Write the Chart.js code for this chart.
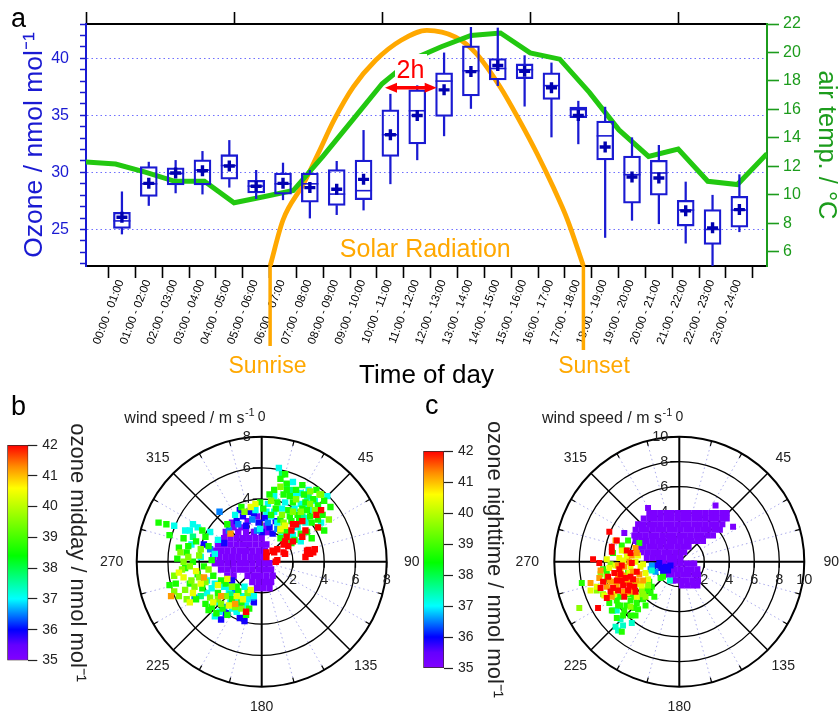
<!DOCTYPE html>
<html><head><meta charset="utf-8">
<script src="https://cdn.jsdelivr.net/npm/chart.js@4.4.1/dist/chart.umd.min.js"></script>
<style>
html,body{margin:0;padding:0;background:#fff;}
#wrap{position:relative;width:839px;height:714px;overflow:hidden;background:#fff;}
canvas{position:absolute;}
</style></head><body>
<div id="wrap">
<canvas id="cA" width="839" height="395" style="left:0;top:0"></canvas>
<canvas id="cBp" width="420" height="329" style="left:0;top:385px"></canvas>
<canvas id="cCp" width="419" height="329" style="left:420px;top:385px"></canvas>
<canvas id="cBc" width="100" height="295" style="left:0;top:410px"></canvas>
<canvas id="cCc" width="100" height="295" style="left:416px;top:410px"></canvas>
</div>
<script>
// ---------------- panel a data ----------------
const hourLabels = ['00:00 - 01:00','01:00 - 02:00','02:00 - 03:00','03:00 - 04:00','04:00 - 05:00','05:00 - 06:00','06:00 - 07:00','07:00 - 08:00','08:00 - 09:00','09:00 - 10:00','10:00 - 11:00','11:00 - 12:00','12:00 - 13:00','13:00 - 14:00','14:00 - 15:00','15:00 - 16:00','16:00 - 17:00','17:00 - 18:00','18:00 - 19:00','19:00 - 20:00','20:00 - 21:00','21:00 - 22:00','22:00 - 23:00','23:00 - 24:00'];
const hourMid = [0.5,1.5,2.5,3.5,4.5,5.5,6.5,7.5,8.5,9.5,10.5,11.5,12.5,13.5,14.5,15.5,16.5,17.5,18.5,19.5,20.5,21.5,22.5,23.5];
const o3Min    = [24.6,27.1,28.2,28.1,28.7,27.7,27.6,26.0,26.3,26.7,29.0,31.1,33.2,35.6,37.6,35.8,33.1,32.5,24.3,25.8,25.5,23.8,21.7,24.8];
const o3Q1     = [25.1,27.9,28.9,28.9,29.4,28.2,28.1,27.4,27.1,27.6,31.4,32.5,34.9,36.7,38.1,38.2,36.4,34.8,31.1,27.3,28.0,25.3,23.7,25.2];
const o3Median = [25.75,29.0,29.9,30.2,30.6,28.8,29.0,29.0,28.1,28.4,33.3,35.4,38.0,38.9,39.1,39.0,37.6,35.5,33.2,29.8,29.95,26.7,25.0,26.7];
const o3Mean   = [26.07,29.04,29.95,30.15,30.56,28.78,29.04,28.67,28.52,29.39,33.3,34.99,37.23,38.83,39.36,38.86,37.41,34.99,32.22,29.6,29.51,26.63,25.14,26.74];
const o3Q3     = [26.5,30.5,30.4,31.1,31.55,29.3,29.95,29.95,30.24,31.08,35.48,37.23,38.73,41.08,39.97,39.5,38.72,35.72,34.49,31.43,31.05,27.56,26.74,27.91];
const o3Max    = [28.3,30.9,31.05,31.84,32.8,30.18,30.82,30.18,30.97,33.68,36.85,37.6,40.47,42.71,42.65,40.23,39.59,36.24,35.72,33.04,32.37,29.16,28.0,29.8];
const ozoneTicks = [22,23,24,25,26,27,28,29,30,31,32,33,34,35,36,37,38,39,40,41,42,43];
const tempHours = [0,1,2,3,4,5,6,7,8,9,10,11,12,13,14,15,16,17,18,19,20,21,22,23];
const airTemp   = [12.3,12.16,11.6,10.95,10.95,9.44,9.86,10.3,12.7,15.25,17.8,19.5,20.4,21.2,21.37,19.97,19.53,17.2,14.56,12.7,13.21,10.95,10.72,12.89];
const tempTicks = [6,8,10,12,14,16,18,20,22];
const topTicks  = [0,5,10,15,20];
const solarHours     = [6.02,6.5,7.27,7.81,8.4,9.12,9.95,10.9,11.86,12.93,13.7,14.59,15.3,15.96,16.56,17.1,17.69];
const solarRadiation = [0,190,341,465,603,740,850,933,974,946,878,740,603,465,327,190,0];

// ---------------- panel b data (wind east / north components, m s-1) ----------------
const midday35_1 = [[-1.8,2.2],[-1.3,2.2],[-2.3,1.9],[-1.5,1.9],[-1.0,1.9],[-0.5,1.9],[0.1,1.9],[0.4,1.9],
[-2.4,1.5],[-2.0,1.5],[-1.6,1.5],[-1.2,1.5],[-0.8,1.5],[-0.4,1.5],[0.0,1.5],
[-2.8,1.1],[-2.4,1.1],[-2.0,1.1],[-1.6,1.1],[-1.2,1.1],[-0.8,1.1],[-0.4,1.1],[0.0,1.1],[0.3,1.1],
[-3.0,0.7],[-2.6,0.7],[-2.2,0.7],[-1.8,0.7],[-1.4,0.7],[-1.0,0.7],[-0.6,0.7],[-0.2,0.7],[0.2,0.7],
[-3.1,0.3],[-2.7,0.3],[-2.3,0.3],[-1.9,0.3],[-1.5,0.3],[-1.1,0.3],[-0.7,0.3],[-0.3,0.3],[0.1,0.3],
[-3.0,-0.1],[-2.6,-0.1],[-2.2,-0.1],[-1.8,-0.1],[-1.4,-0.1],[-1.0,-0.1],[-0.6,-0.1],[-0.2,-0.1],[0.2,-0.1],[0.5,-0.1],
[-2.6,-0.5],[-2.2,-0.5],[-1.8,-0.5],[-1.4,-0.5],[-1.0,-0.5],[-0.6,-0.5],[-0.2,-0.5],[0.2,-0.5],[0.6,-0.5],
[-2.2,-0.9],[-1.8,-0.9],[-0.9,-0.9],[-0.5,-0.9],[-0.1,-0.9],[0.3,-0.9],[0.7,-0.9],
[-0.6,-1.3],[-0.2,-1.3],[0.2,-1.3],[0.6,-1.3],[-0.3,-1.7],[0.1,-1.7],[0.5,-1.7],[-1.4,-2.7],
[-0.9,2.6],[-1.9,2.5],[0.3,2.3],[-0.3,2.9]];
const midday35_9 = [[-0.8,3.2],[-0.5,3.1],[0.9,2.6],[-1.2,2.9],[0.2,2.8],[-0.2,2.5],[0.5,2.2],[-1.6,2.6],[0.0,1.9],[-2.4,1.2],[-1.0,2.3],[0.7,1.8],
[-2.3,-3.3],[-1.9,-1.2],[-0.5,-2.6],[-1.4,-3.6],[-2.2,-3.35],[-3.7,1.1],[-1.4,3.3],[-1.1,-3.8],[-2.6,-3.7]];
const midday36_5 = [[-2.7,3.2],[-1.5,2.4],[-0.6,2.7],[0.4,2.5],[-2.1,2.0],[-0.3,2.0],[1.0,2.1],[-4.3,-2.3],[-1.8,-1.9],[-0.6,-2.3],[-3.3,0.8],[-2.4,-2.9]];
const midday37_1 = [[1.1,6.0],[1.9,4.5],[2.5,4.4],[0.8,4.2],[2.2,4.2],[2.9,4.0],[4.2,4.2],[0.4,3.7],[1.5,3.8],[2.5,3.7],[3.4,3.9],[-0.4,3.3],[0.3,3.2],[1.3,3.4],[2.1,3.4],[3.3,3.3],[2.8,2.8],[2.8,2.5],[-0.1,2.1],[2.0,1.7],[2.5,1.3],[1.6,4.9],[3.0,4.6],[3.6,3.5],[1.0,2.5],[2.3,2.2],[0.6,2.9],
[2.0,5.1],[2.9,3.5],[3.8,2.5],[1.3,1.8],[-1.7,3.0],[0.8,3.2],
[-5.6,2.3],[-4.4,2.4],[-4.9,2.0],[-4.6,2.0],[-4.5,1.1],[-3.9,0.3],[-2.8,1.4],[-3.3,1.9],[-4.1,2.2],[-3.0,0.5],
[-3.0,-1.4],[-3.0,-3.5],[-1.6,-3.2],[-2.9,-2.6],[-0.5,-2.2],[-2.4,-1.6],[-1.2,-2.2],[-3.5,-2.0],[-2.0,-2.6],[-1.1,-1.6],[-1.6,-3.1],[-3.5,-1.2],[-1.0,-2.8],
[-2.1,-1.8],[-1.5,-2.5],[-2.7,-3.2],[-0.9,-2.4],[-1.9,-3.0],[-3.2,-1.7]];
const midday37_7 = [[1.8,4.6],[2.6,2.9],[3.0,4.2],[-4.4,1.6],[-3.9,-2.2],[1.3,5.6],[-2.0,-2.1]];
const midday38_6 = [[1.2,5.3],[1.6,5.0],[1.6,4.6],[2.2,4.6],[1.4,4.3],[1.8,4.2],[2.7,4.3],[-0.1,3.8],[1.0,3.8],[2.0,3.8],[2.8,3.8],[3.6,3.6],[0.1,3.4],[0.9,3.4],[1.7,3.3],[2.9,3.3],[0.6,3.0],[1.8,2.9],[2.3,3.0],[3.1,2.9],[3.6,2.7],[1.2,2.7],[1.9,2.6],[3.2,2.5],[3.6,2.2],[4.0,2.0],[1.6,1.9],[2.5,1.8],[2.9,1.9],[2.1,1.4],[1.9,1.2],[4.4,3.5],[0.8,4.6],[3.3,4.0],[1.2,1.5],[3.2,1.5],[2.4,2.6],
[1.5,5.6],[2.6,4.9],[3.5,4.6],[4.0,3.9],[3.9,3.0],[0.5,4.3],[2.6,3.4],[-1.3,3.5],[-2.2,2.4],
[-6.6,2.5],[-6.1,2.4],[-5.9,1.7],[-5.0,1.5],[-3.8,2.0],[-3.6,1.6],[-4.2,1.3],[-5.3,0.9],[-4.8,0.6],[-3.4,1.0],[-4.4,0.0],[-3.7,-0.3],[-5.9,-1.5],[-4.1,-0.8],[-3.2,0.1],[-5.4,0.2],
[-4.7,1.0],[-4.9,-0.4],[-5.5,-1.4],[-4.2,-2.4],[-3.1,-0.9],
[-3.2,-2.9],[-2.5,-3.0],[-1.9,-2.4],[-2.8,-2.0],[-3.8,-1.7],[-1.3,-2.6],[-2.2,-3.4],[-3.6,-2.7],[-0.8,-3.0],[-2.6,-1.2],[-1.6,-1.6],[-4.6,-1.4],
[-2.3,-1.4],[-1.0,-3.4],[-2.9,-3.3],[-1.5,-1.9],[-3.4,-3.1]];
const midday39_5 = [[1.2,4.8],[3.1,4.5],[3.8,4.3],[0.6,3.9],[3.1,3.7],[-1.1,3.2],[2.5,3.2],[1.3,3.0],[1.4,2.5],[1.2,2.0],[3.7,4.3],[2.0,3.2],[2.2,4.0],[3.4,3.3],[4.3,2.7],
[-4.7,0.3],[-5.1,-0.5],[-4.5,-1.2],[-5.3,-2.2],[-4.6,-0.3],[-5.6,-0.9],[-4.0,-1.0],[-3.4,-0.5],[-4.9,-1.8],[-5.2,0.6],[-3.9,0.8],[-4.3,-1.6],
[-4.0,0.4],[-3.6,-1.3],[-5.0,0.0],[-4.8,-2.4],[-5.6,-1.9],
[-2.3,-2.2],[-1.7,-2.9],[-3.3,-2.3],[-0.9,-2.0],[-2.6,-2.7],[-1.9,-1.6],[-2.8,-2.4],[-1.3,-3.0]];
const midday40_4 = [[-0.7,3.5],[1.5,2.3],[1.2,2.1],[-4.2,-0.6],[-3.9,-1.4],[-2.2,-1.1],[-2.1,-2.8],[-5.0,-1.0],[-2.8,-1.5],[-1.2,-2.4],[-4.4,-2.0],
[-5.3,-0.7],[-4.6,-2.6],[-1.6,-2.2],[-3.1,-2.6],[-0.7,-1.8],[-0.4,3.7]];
const midday41_2 = [[-5.8,-2.2],[-3.7,-1.0],[-2.6,-2.2],[-2.0,1.8],[-1.7,-2.7]];
const midday42_0 = [[3.8,3.3],[3.6,2.2],[3.5,3.0],[2.6,2.6],[2.2,2.4],[2.0,2.4],[2.8,2.0],[1.9,2.0],[2.6,1.6],[1.6,1.6],[2.0,1.3],[1.5,1.3],[1.7,1.0],[1.4,1.1],[1.0,0.8],[1.4,0.6],[1.5,0.5],[0.8,0.6],[0.3,0.6],[0.7,0.7],[0.3,0.3],[0.9,0.0],[1.0,0.1],[3.0,0.75],[3.4,0.8],[3.1,0.5],[2.8,0.3],[3.3,0.6],[2.9,0.7],[-1.0,-3.2]];
const middayLevels = [35.1,35.9,36.5,37.1,37.7,38.6,39.5,40.4,41.2,42.0];
const middayGroups = [midday35_1,midday35_9,midday36_5,midday37_1,midday37_7,midday38_6,midday39_5,midday40_4,midday41_2,midday42_0];

// ---------------- panel c data ----------------
const night35_1 = [[-2.5,4.3],[2.9,4.5],[-4.4,2.3],[4.3,2.8],
[-2.4,3.9],[-1.95,3.9],[-1.5,3.9],[-1.05,3.9],[-0.6,3.9],[-0.15,3.9],[0.3,3.9],[0.75,3.9],[1.2,3.9],[1.65,3.9],[2.1,3.9],[2.55,3.9],[3.0,3.9],[3.45,3.9],[3.8,3.9],
[-2.85,3.45],[-2.4,3.45],[-1.95,3.45],[-1.5,3.45],[-1.05,3.45],[-0.6,3.45],[-0.15,3.45],[0.3,3.45],[0.75,3.45],[1.2,3.45],[1.65,3.45],[2.1,3.45],[2.55,3.45],[3.0,3.45],[3.45,3.45],[3.8,3.45],
[-3.3,3.0],[-2.85,3.0],[-2.4,3.0],[-1.95,3.0],[-1.5,3.0],[-1.05,3.0],[-0.6,3.0],[-0.15,3.0],[0.3,3.0],[0.75,3.0],[1.2,3.0],[1.65,3.0],[2.1,3.0],[2.55,3.0],[3.0,3.0],[3.45,3.0],
[-3.5,2.55],[-3.05,2.55],[-2.6,2.55],[-2.15,2.55],[-1.7,2.55],[-1.25,2.55],[-0.8,2.55],[-0.35,2.55],[0.1,2.55],[0.55,2.55],[1.0,2.55],[1.45,2.55],[1.9,2.55],[2.35,2.55],[2.8,2.55],[3.25,2.55],
[-3.6,2.1],[-3.15,2.1],[-2.7,2.1],[-2.25,2.1],[-1.8,2.1],[-1.35,2.1],[-0.9,2.1],[-0.45,2.1],[0.0,2.1],[0.45,2.1],[0.9,2.1],[1.35,2.1],[1.8,2.1],[2.25,2.1],[2.7,2.1],
[-3.5,1.65],[-3.05,1.65],[-2.6,1.65],[-2.15,1.65],[-1.7,1.65],[-1.25,1.65],[-0.8,1.65],[-0.35,1.65],[0.1,1.65],[0.55,1.65],[1.0,1.65],[1.45,1.65],[1.9,1.65],
[-3.3,1.2],[-2.85,1.2],[-2.4,1.2],[-1.95,1.2],[-1.5,1.2],[-1.05,1.2],[-0.6,1.2],[-0.15,1.2],[0.3,1.2],[0.75,1.2],
[-3.0,0.75],[-2.55,0.75],[-2.1,0.75],[-1.65,0.75],[-1.2,0.75],[-0.75,0.75],[-0.3,0.75],[0.15,0.75],[0.4,0.75],
[-2.6,0.3],[-2.15,0.3],[-1.7,0.3],[-1.25,0.3],[-0.8,0.3],[-0.35,0.3],[0.1,0.3],
[-1.25,-0.15],[-0.8,-0.15],[-0.35,-0.15],[0.1,-0.15],[0.55,-0.15],[0.95,-0.15],[1.2,-0.15],
[-1.2,-0.6],[-0.8,-0.6],[-0.35,-0.6],[0.1,-0.6],[0.55,-0.6],[1.0,-0.6],[1.45,-0.6],
[-0.9,-1.05],[-0.6,-1.05],[-0.15,-1.05],[0.3,-1.05],[0.75,-1.05],[1.2,-1.05],[1.5,-1.05],
[-0.5,-1.5],[-0.3,-1.5],[0.15,-1.5],[0.6,-1.5],[1.05,-1.5],[1.5,-1.5],
[0.2,-1.9],[0.65,-1.9],[1.1,-1.9],[1.45,-1.9]];
const night35_9 = [[-1.8,-0.3],[-1.5,-0.5],[-1.1,-0.4],[-0.9,-0.7],[-1.3,-0.8],[-1.6,-0.1],[-0.7,-0.3]];
const night36_6 = [[-2.3,-0.6],[-1.9,-0.8],[-2.2,-0.3]];
const night37_3 = [[-5.3,-3.9],[-5.0,-3.9],[-5.1,-5.2],[-4.9,-5.5],[-4.5,-5.1],[-3.8,-4.9],[-0.75,-1.5],[-2.2,-0.7],[-4.7,-4.6]];
const night38_7 = [[-5.3,0.7],[-5.8,-0.8],[-7.8,-1.7],[-5.0,-3.1],[-4.7,-3.5],[-4.2,-3.5],[-3.9,-3.1],[-3.4,-3.3],[-3.1,-2.8],[-2.6,-2.3],[-2.2,-2.0],[-2.3,-2.5],[-4.5,-4.3],[-3.9,-4.3],[-3.5,-4.3],[-5.0,-4.5],[-4.6,-5.6],[-5.4,-3.9],[-4.1,-0.9],[-1.5,-1.3],[-1.3,-1.2],[-4.4,-3.9],[-3.6,-3.7],[-2.9,-3.0],[-4.8,-2.8],[-6.1,-0.6],[-4.6,1.3],[-3.2,1.5],[-4.1,1.7],[-2.7,-3.5],[-4.0,-2.6],
[-3.6,-2.8],[-4.9,-3.5],[-3.3,-3.8],[-2.4,-1.6],[-2.0,-2.8],[-5.6,-3.3]];
const night39_6 = [[-4.3,0.9],[-5.8,-1.2],[-6.6,-2.3],[-2.7,-2.8],[-3.0,-2.3],[-6.3,-1.0],[-5.5,-0.2],[-3.6,-1.9],[-2.5,-1.9],[-8.0,-3.7],[-6.1,-2.6],[-3.9,-3.6],[-2.9,-2.6]];
const night40_4 = [[-5.1,-0.3],[-4.7,-0.7],[-4.5,0.1],[-4.2,0.4],[-3.5,0.0],[-3.1,-0.4],[-2.7,-0.9],[-2.5,-1.4],[-3.8,-2.0],[-4.2,-2.5],[-3.4,-2.8],[-7.1,-2.3],[-4.6,0.9],[-6.6,-2.0],[-3.9,-0.4],[-5.6,-0.5],[-3.3,0.5],[-4.8,0.3],[-2.9,-0.2],[-3.0,-1.9],
[-5.2,-2.6],[-4.0,-0.9],[-3.3,-1.8],[-6.0,-2.7],[-5.8,0.2]];
const night41_2 = [[-5.1,1.7],[-6.4,-1.3],[-5.4,-1.6],[-4.9,-1.1],[-4.5,-1.1],[-4.2,-1.5],[-3.9,-1.7],[-3.4,-1.5],[-2.9,-1.5],[-3.8,0.5],[-3.4,0.7],[-3.5,1.1],[-5.4,-2.8],[-7.1,-1.7],[-6.3,-0.7],[-4.4,-0.4],[-3.7,-0.8],[-5.8,-2.0],[-4.5,-2.4],[-5.0,-1.9],[-3.2,-1.0],[-4.0,0.0],
[-4.4,-1.7],[-5.6,-1.5],[-3.9,-2.4],[-4.9,-0.3]];
const night42_0 = [[-5.6,2.4],[-5.0,1.7],[-6.9,0.2],[-6.4,-0.1],[-5.4,1.2],[-5.4,0.8],[-6.5,-3.7],[-4.6,-0.3],[-4.3,-1.3],[-3.4,-0.8],[-3.8,-0.1],[-4.9,-2.3],[-5.3,-2.1],[-4.6,-1.5],[-4.1,-2.3],[-3.5,-2.4],[-4.5,-1.9],[-6.3,-2.1],[-6.1,-1.6],[-5.8,-2.9],[-3.9,0.7],[-4.2,0.9],[-5.0,-1.5],[-4.8,-0.6],[-3.9,-1.2],[-5.5,-2.4],[-4.0,-1.9],[-3.6,-2.0],[-4.4,-2.8],[-5.7,-1.2],
[-4.7,-1.0],[-5.2,-0.9],[-3.7,-1.4]];
const nightLevels = [35.1,35.9,36.6,37.3,38.7,39.6,40.4,41.2,42.0];
const nightGroups = [night35_1,night35_9,night36_6,night37_3,night38_7,night39_6,night40_4,night41_2,night42_0];

const colorbarTicks = [35,36,37,38,39,40,41,42];
const angleLabels = [0,45,90,135,180,225,270,315];
const minorSpokes = [15,30,60,75,105,120,150,165,195,210,240,255,285,300,330,345];
const ringsB = [2,4,6,8];
const ringsC = [2,4,6,8,10];

// ---------------- styles ----------------
const FONT = "'Liberation Sans', Arial, Helvetica, sans-serif";
Chart.defaults.font.family = FONT;
Chart.defaults.animation = false;
Chart.defaults.events = [];
Chart.defaults.plugins.legend.display = false;
Chart.defaults.plugins.tooltip.enabled = false;
const BLUE = '#1a1ad2', NAVY = '#0000b0', GREEN_LINE = '#22c810', GREEN_AX = '#1c9c1c', ORANGE = '#ffa800', RED = '#ff0000';

const cmapStops = [[35,[130,0,255]],[35.5,[100,0,255]],[36,[0,0,255]],[37,[0,255,255]],[38.4,[0,255,0]],[40.6,[255,255,0]],[41.3,[255,140,0]],[42,[255,0,0]]];
function cmap(v){
  if (v <= cmapStops[0][0]) return 'rgb(' + cmapStops[0][1].join(',') + ')';
  for (let i = 1; i < cmapStops.length; i++) {
    const [v1, c1] = cmapStops[i], [v0, c0] = cmapStops[i-1];
    if (v <= v1) { const t = (v - v0) / (v1 - v0); return 'rgb(' + c0.map((c, k) => Math.round(c + (c1[k] - c) * t)).join(',') + ')'; }
  }
  return 'rgb(255,0,0)';
}

// ---------------- panel a ----------------
const annotA = {
  id: 'annotA',
  afterDatasetsDraw(chart) {
    const {ctx, chartArea: area} = chart;
    const x = chart.scales.x;
    ctx.save();
    ctx.fillStyle = '#fff';
    ctx.fillRect(395, 54, 32, 26);
    ctx.fillStyle = RED;
    ctx.font = '25px ' + FONT;
    ctx.textAlign = 'center'; ctx.textBaseline = 'alphabetic';
    ctx.fillText('2h', 410.5, 77.5);
    const ay = 87.7, ax1 = 385, ax2 = 436.7;
    ctx.strokeStyle = RED; ctx.lineWidth = 3.5;
    ctx.beginPath(); ctx.moveTo(ax1 + 8, ay); ctx.lineTo(ax2 - 8, ay); ctx.stroke();
    ctx.beginPath(); ctx.moveTo(ax1, ay); ctx.lineTo(ax1 + 12, ay - 5); ctx.lineTo(ax1 + 12, ay + 5); ctx.closePath(); ctx.fill();
    ctx.beginPath(); ctx.moveTo(ax2, ay); ctx.lineTo(ax2 - 12, ay - 5); ctx.lineTo(ax2 - 12, ay + 5); ctx.closePath(); ctx.fill();
    ctx.fillStyle = ORANGE; ctx.font = '25px ' + FONT;
    ctx.fillText('Solar Radiation', 425.3, 257);
    const sr = x.getPixelForValue(solarHours[0]);
    const ss = x.getPixelForValue(solarHours[solarHours.length - 1]);
    ctx.strokeStyle = ORANGE; ctx.lineWidth = 3.5;
    ctx.beginPath(); ctx.moveTo(sr, area.bottom); ctx.lineTo(sr, 346); ctx.stroke();
    ctx.beginPath(); ctx.moveTo(ss, area.bottom); ctx.lineTo(ss, 350); ctx.stroke();
    ctx.font = '23px ' + FONT; ctx.textBaseline = 'alphabetic';
    ctx.fillText('Sunrise', 267.5, 373);
    ctx.fillText('Sunset', 594, 373);
    ctx.fillStyle = '#000'; ctx.font = '26px ' + FONT;
    ctx.fillText('Time of day', 426.5, 383);
    ctx.textAlign = 'left'; ctx.font = '27px ' + FONT;
    ctx.fillText('a', 11, 27);
    ctx.restore();
  }
};

new Chart(document.getElementById('cA'), {
  type: 'line',
  data: { datasets: [
    { type:'line', label:'mean', data: hourMid.map((h,i)=>({x:h, y:o3Mean[i]})), xAxisID:'x', yAxisID:'y', showLine:false,
      pointStyle:'cross', pointRadius:5.5, pointBorderWidth:3.4, borderColor:NAVY, pointBorderColor:NAVY, order:0 },
    { type:'line', label:'median', data: hourMid.map((h,i)=>({x:h, y:o3Median[i]})), xAxisID:'x', yAxisID:'y', showLine:false,
      pointStyle:'line', pointRadius:8.5, pointBorderWidth:1.6, borderColor:BLUE, pointBorderColor:BLUE, order:1 },
    { type:'bar', label:'box', data: hourMid.map((h,i)=>({x:h, y:[o3Q1[i], o3Q3[i]]})), xAxisID:'x', yAxisID:'y',
      backgroundColor:'rgba(255,255,255,0)', borderColor:BLUE, borderWidth:1.6, borderSkipped:false, barThickness:17, grouped:false, order:2 },
    { type:'bar', label:'whisker high', data: hourMid.map((h,i)=>({x:h, y:[o3Q3[i], o3Max[i]]})), xAxisID:'x', yAxisID:'y',
      backgroundColor:BLUE, borderWidth:0, barThickness:1.6, grouped:false, order:3 },
    { type:'bar', label:'whisker low', data: hourMid.map((h,i)=>({x:h, y:[o3Min[i], o3Q1[i]]})), xAxisID:'x', yAxisID:'y',
      backgroundColor:BLUE, borderWidth:0, barThickness:1.6, grouped:false, order:3 },
    { type:'line', label:'air temp', data: tempHours.map((h,i)=>({x:h, y:airTemp[i]})), xAxisID:'x2', yAxisID:'y2',
      borderColor:GREEN_LINE, borderWidth:5, pointRadius:0, tension:0, order:5 },
    { type:'line', label:'solar', data: solarHours.map((h,i)=>({x:h, y:solarRadiation[i]})), xAxisID:'x', yAxisID:'ys',
      borderColor:ORANGE, borderWidth:4.8, pointRadius:0, cubicInterpolationMode:'monotone', order:6 }
  ]},
  options: {
    responsive:false, layout:{padding:0},
    scales: {
      x: { type:'linear', position:'bottom', min:-0.31, max:24,
        afterBuildTicks: s => { s.ticks = hourMid.map(v => ({value:v})); },
        afterFit: s => { s.height = 129; s.paddingLeft = 0; s.paddingRight = 0; },
        ticks: { autoSkip:false, minRotation:69, maxRotation:69, color:'#000', font:{size:11.5}, padding:0, labelOffset:-1, callback:(v,i) => hourLabels[i] },
        grid: { offset:true, drawOnChartArea:false, tickLength:12, tickColor:'#000', tickWidth:1.6 },
        border: { color:'#000', width:2 } },
      x2: { type:'linear', position:'top', min:0, max:23,
        afterBuildTicks: s => { s.ticks = topTicks.map(v => ({value:v})); },
        afterFit: s => { s.height = 24; s.paddingLeft = 0; s.paddingRight = 0; },
        ticks: { display:false },
        grid: { drawOnChartArea:false, tickLength:12, tickColor:'#000', tickWidth:1.6 },
        border: { color:'#000', width:2 } },
      y: { type:'linear', position:'left', min:21.8, max:43,
        afterBuildTicks: s => { s.ticks = ozoneTicks.map(v => ({value:v})); },
        afterFit: s => { s.width = 86; s.paddingTop = 0; s.paddingBottom = 0; },
        ticks: { autoSkip:false, color:BLUE, font:{size:16}, padding:11, callback: v => (v % 5 === 0 ? String(v) : '') },
        grid: { color: c => (c.tick && c.tick.value % 5 === 0) ? 'rgba(95,95,255,0.9)' : 'rgba(0,0,0,0)', lineWidth:1, tickLength:6, tickColor:BLUE, tickWidth:1.5 },
        border: { color:BLUE, width:2, dash:[1.5,3] },
        title: { display:true, text:'Ozone / nmol mol⁻¹', color:BLUE, font:{size:26.5, lineHeight:1}, padding:{top:21, bottom:0} } },
      y2: { type:'linear', position:'right', min:5, max:22,
        afterBuildTicks: s => { s.ticks = tempTicks.map(v => ({value:v})); },
        afterFit: s => { s.width = 72; s.paddingTop = 0; s.paddingBottom = 0; },
        ticks: { autoSkip:false, color:GREEN_AX, font:{size:16}, padding:4 },
        grid: { drawOnChartArea:false, tickLength:12, tickColor:GREEN_AX, tickWidth:1.6 },
        border: { color:GREEN_AX, width:2 },
        title: { display:true, text:'air temp. / °C', color:GREEN_AX, font:{size:25.5, lineHeight:1}, padding:{top:0, bottom:0} } },
      ys: { type:'linear', display:false, min:0, max:1000 }
    }
  },
  plugins: [annotA]
});

// ---------------- polar panels ----------------
function makePolarPlugin(cfg) {
  return {
    id: 'polarGrid',
    beforeDatasetsDraw(chart) {
      const {ctx} = chart; const sx = chart.scales.x, sy = chart.scales.y;
      const cx = sx.getPixelForValue(0), cy = sy.getPixelForValue(0);
      const k = sx.getPixelForValue(1) - cx;
      const rMax = cfg.rings[cfg.rings.length - 1];
      const R = rMax * k;
      const P = (a, r) => [cx + r * Math.sin(a * Math.PI / 180), cy - r * Math.cos(a * Math.PI / 180)];
      ctx.save();
      ctx.strokeStyle = 'rgba(150,150,230,0.8)'; ctx.lineWidth = 1; ctx.setLineDash([1.5, 3]);
      minorSpokes.forEach(a => { const [x0,y0] = P(a, R * 0.12), [x1,y1] = P(a, R); ctx.beginPath(); ctx.moveTo(x0,y0); ctx.lineTo(x1,y1); ctx.stroke(); });
      ctx.setLineDash([]);
      ctx.strokeStyle = '#000';
      cfg.rings.forEach((r, i) => { ctx.lineWidth = i === cfg.rings.length - 1 ? 2 : 1.3; ctx.beginPath(); ctx.arc(cx, cy, r * k, 0, 2 * Math.PI); ctx.stroke(); });
      ctx.lineWidth = 1.5;
      [45,135,225,315].forEach(a => { const [x1,y1] = P(a, R); ctx.beginPath(); ctx.moveTo(cx, cy); ctx.lineTo(x1, y1); ctx.stroke(); });
      ctx.lineWidth = 2;
      ctx.beginPath(); ctx.moveTo(cx - R, cy); ctx.lineTo(cx + R, cy); ctx.moveTo(cx, cy - R); ctx.lineTo(cx, cy + R); ctx.stroke();
      ctx.lineWidth = 1.2;
      minorSpokes.forEach(a => { const [x0,y0] = P(a, R - 5), [x1,y1] = P(a, R); ctx.beginPath(); ctx.moveTo(x0,y0); ctx.lineTo(x1,y1); ctx.stroke(); });
      ctx.fillStyle = '#222'; ctx.font = '14.5px ' + FONT; ctx.lineWidth = 1.3;
      cfg.rings.forEach(r => {
        const py = cy - r * k, px = cx + r * k;
        ctx.beginPath(); ctx.moveTo(cx - 9, py); ctx.lineTo(cx, py); ctx.moveTo(px, cy); ctx.lineTo(px, cy + 6); ctx.stroke();
        ctx.textAlign = 'right'; ctx.textBaseline = 'middle'; ctx.fillText(String(r), cx - 11, py);
        ctx.textAlign = 'center'; ctx.fillText(String(r), px, cy + 18);
      });
      ctx.font = '14px ' + FONT; ctx.textAlign = 'center'; ctx.textBaseline = 'middle';
      angleLabels.forEach(a => {
        const gap = (a === 0 || a === 180) ? 20 : ((a === 90 || a === 270) ? cfg.sideGap : 22);
        const [lx, ly] = P(a, R + gap); ctx.fillText(String(a), lx, ly);
      });
      ctx.font = '11px ' + FONT; const supW = ctx.measureText('-1').width;
      ctx.textAlign = 'left'; ctx.textBaseline = 'alphabetic';
      const endX = cx - 7, base = cy - 139;
      ctx.fillText('-1', endX - supW, base - 7);
      ctx.font = '16px ' + FONT; ctx.textAlign = 'right';
      ctx.fillText('wind speed / m s', endX - supW - 0.5, base);
      ctx.fillStyle = '#000'; ctx.font = '27px ' + FONT; ctx.textAlign = 'left';
      ctx.fillText(cfg.letter, cfg.letterX, cfg.letterY);
      ctx.restore();
    }
  };
}

function polarChart(id, lim, levels, groups, pad, cfg) {
  const sets = groups.map((pts, i) => ({
    data: pts.map(p => ({x:p[0], y:p[1]})),
    backgroundColor: cmap(levels[i]), pointBackgroundColor: cmap(levels[i]),
    pointStyle:'rect', pointRadius: cfg.ptR, pointHoverRadius: cfg.ptR, pointBorderWidth:0, borderWidth:0,
    order: groups.length - i
  }));
  return new Chart(document.getElementById(id), {
    type:'scatter',
    data:{ datasets: sets },
    options:{ responsive:false, layout:{padding:pad},
      scales:{ x:{type:'linear', min:-lim, max:lim, display:false}, y:{type:'linear', min:-lim, max:lim, display:false} } },
    plugins:[makePolarPlugin(cfg)]
  });
}

polarChart('cBp', 8, middayLevels, middayGroups, {left:136.7, right:33.3, top:51.7, bottom:27.3},
  {rings: ringsB, sideGap:25, letter:'b', letterX:11, letterY:30, ptR:4.5});
polarChart('cCp', 10, nightLevels, nightGroups, {left:134.3, right:34.7, top:51.7, bottom:27.3},
  {rings: ringsC, sideGap:27, letter:'c', letterX:5, letterY:29, ptR:4.2});

// ---------------- colour bars ----------------
function colorbar(id, pad, axisWidth, titleText, titlePad) {
  return new Chart(document.getElementById(id), {
    type:'bar',
    data:{ labels:[''], datasets:[{
      data:[[colorbarTicks[0], colorbarTicks[colorbarTicks.length - 1]]],
      backgroundColor: c => {
        const ch = c.chart, a = ch.chartArea; if (!a) return '#fff';
        const g = ch.ctx.createLinearGradient(0, a.bottom, 0, a.top);
        cmapStops.forEach(([v, rgb]) => g.addColorStop((v - 35) / 7, 'rgb(' + rgb.join(',') + ')'));
        return g;
      },
      borderColor:'#3a2a2a', borderWidth:1, borderSkipped:false, barPercentage:1, categoryPercentage:1 }]},
    options:{ responsive:false, layout:{padding:pad},
      scales:{
        x:{ display:false },
        y:{ position:'right', min:35, max:42,
          afterBuildTicks: s => { s.ticks = colorbarTicks.map(v => ({value:v})); },
          afterFit: s => { s.width = axisWidth; s.paddingTop = 0; s.paddingBottom = 0; },
          ticks:{ autoSkip:false, color:'#222', font:{size:14}, padding:5 },
          grid:{ drawOnChartArea:false, tickLength:9, tickColor:'#222', tickWidth:1.2 },
          border:{ display:false },
          title:{ display:true, text:titleText, color:'#222', font:{size:22, lineHeight:1}, padding:{top:titlePad, bottom:0} } } } }
  });
}
colorbar('cBc', {left:7.3, top:35, bottom:44.5, right:0}, 71.7, 'ozone midday / nmol mol⁻¹', 12);
colorbar('cCc', {left:7.3, top:41, bottom:37, right:0}, 72, 'ozone nighttime / nmol mol⁻¹', 11);
</script>
</body></html>
